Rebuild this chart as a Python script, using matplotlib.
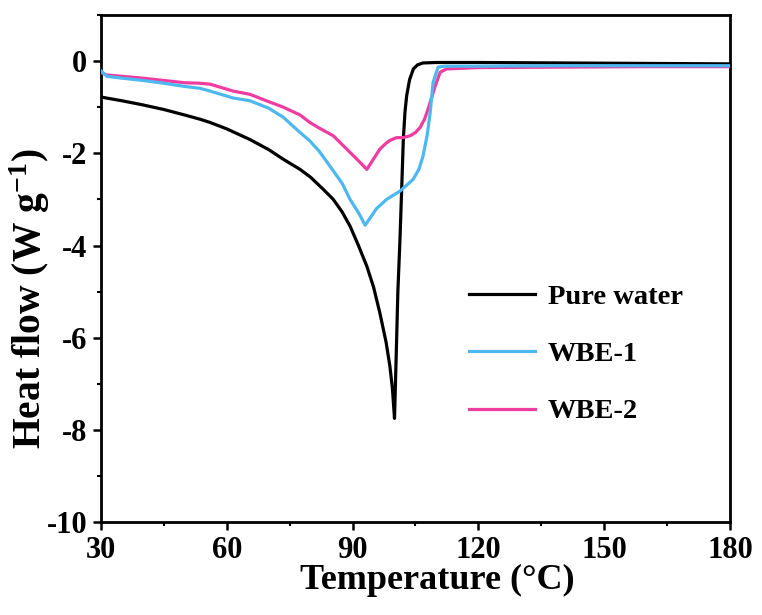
import matplotlib
matplotlib.use("Agg")
import matplotlib.pyplot as plt
from matplotlib.ticker import MultipleLocator

# ---- data ----
water_T = [30, 35, 40, 45, 50, 53.6, 56, 60, 65.5, 70, 73.5, 77.5, 80, 83, 85.4, 87.5,
           89.4, 91.4, 93.4, 95, 96.5, 98, 98.9, 99.5, 100.0, 100.4, 100.8, 101.3, 101.7,
           102.1, 102.5, 102.9, 103.6, 104.5, 105.5, 106.8, 110, 120, 140, 160, 180]
water_H = [-0.78, -0.86, -0.95, -1.05, -1.17, -1.26, -1.33, -1.47, -1.70, -1.92, -2.13, -2.35,
           -2.52, -2.78, -3.0, -3.27, -3.58, -4.0, -4.45, -4.9, -5.46, -6.1, -6.62, -7.1, -7.75,
           -6.4, -5.0, -3.87, -2.8, -1.7, -1.1, -0.75, -0.4, -0.17, -0.08, -0.04, -0.03,
           -0.03, -0.04, -0.05, -0.06]

wbe1_T = [30, 31.4, 35, 40, 45, 50, 53.6, 56, 61.5, 65.5, 70, 73.5, 77.5, 79.8, 82, 85.4,
          87.5, 89.4, 91.5, 93.0, 94.2, 95.7, 98.1, 101.3, 104.4, 105.8, 106.8, 107.8, 108.5,
          109.2, 110.4, 112, 120, 140, 160, 180]
wbe1_H = [-0.21, -0.33, -0.37, -0.42, -0.48, -0.55, -0.59, -0.65, -0.80, -0.86, -1.02, -1.22,
          -1.55, -1.73, -1.95, -2.38, -2.65, -3.0, -3.3, -3.56, -3.4, -3.2, -3.0, -2.82, -2.57,
          -2.35, -2.06, -1.6, -1.12, -0.46, -0.13, -0.11, -0.11, -0.1, -0.1, -0.1]

wbe2_T = [30, 31.4, 35, 40, 45, 50, 53.6, 56, 61.5, 65.5, 70, 73.5, 77.5, 79.8, 82, 85.4,
          89.4, 91.5, 93.4, 94.8, 96.5, 98.0, 98.9, 100.5, 102, 103.7, 105, 106.1, 107.2, 108,
          109.7, 110.9, 112.4, 120, 140, 160, 180]
wbe2_H = [-0.25, -0.30, -0.33, -0.37, -0.42, -0.47, -0.48, -0.50, -0.65, -0.72, -0.88, -1.0,
          -1.17, -1.33, -1.45, -1.62, -1.98, -2.17, -2.35, -2.15, -1.91, -1.78, -1.72, -1.66,
          -1.66, -1.62, -1.55, -1.44, -1.25, -1.04, -0.54, -0.24, -0.17, -0.14, -0.13,
          -0.12, -0.12]

labels = ["Pure water", "WBE-1", "WBE-2"]
colors = ["#000000", "#4db8f0", "#f03ca0"]

xticks = [30, 60, 90, 120, 150, 180]
yticks = [-10, -8, -6, -4, -2, 0]

# ---- figure ----
plt.rcParams['font.family'] = ['Liberation Serif', 'DejaVu Serif']
plt.rcParams['font.weight'] = 'bold'
plt.rcParams['axes.unicode_minus'] = False
plt.rcParams['mathtext.fontset'] = 'custom'
plt.rcParams['mathtext.rm'] = 'Liberation Serif:bold'
plt.rcParams['mathtext.it'] = 'Liberation Serif:bold'
plt.rcParams['mathtext.bf'] = 'Liberation Serif:bold'

fig = plt.figure(figsize=(7.62, 6.15), dpi=100)
ax = fig.add_axes([0.1325, 0.151, 0.958 - 0.1325, 0.9756 - 0.151])

ax.plot(water_T, water_H, color=colors[0], lw=2.3, label=labels[0], zorder=2)
ax.plot(wbe1_T, wbe1_H, color=colors[1], lw=2.3, label=labels[1], zorder=4)
ax.plot(wbe2_T, wbe2_H, color=colors[2], lw=2.3, label=labels[2], zorder=3)

ax.set_xlim(30, 180)
ax.set_ylim(-10, 1)
ax.set_xticks(xticks)
ax.set_yticks(yticks)
ax.xaxis.set_minor_locator(MultipleLocator(15))
ax.yaxis.set_minor_locator(MultipleLocator(1))
ax.tick_params(which='major', direction='out', length=6, width=1.8, labelsize=22, pad=4)
ax.tick_params(which='minor', direction='out', length=3, width=1.5)
for lab in ax.get_xticklabels() + ax.get_yticklabels():
    lab.set_fontweight('bold')
for s in ax.spines.values():
    s.set_linewidth(2.0)

ax.set_xlabel("Temperature (\u00b0C)", fontsize=26, fontweight='bold')
ax.set_ylabel("Heat flow (W g$^{-1}$)", fontsize=28.5, fontweight='bold')
ax.yaxis.set_label_coords(-0.078, 0.44)
ax.xaxis.set_label_coords(0.534, -0.082)

leg = ax.legend(loc='upper left', bbox_to_anchor=(0.545, 0.52), frameon=False,
                handlelength=2.3, handletextpad=0.45, labelspacing=1.1,
                prop={'weight': 'bold', 'size': 20.5})

fig.savefig("out.png", dpi=100)
